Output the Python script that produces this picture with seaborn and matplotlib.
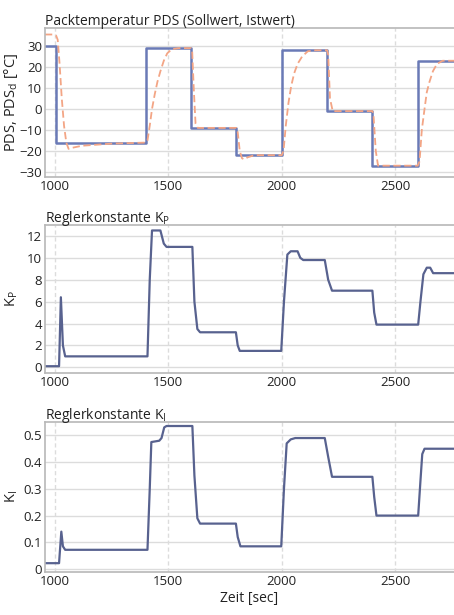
import numpy as np
import pandas as pd
import matplotlib
matplotlib.use("Agg")
import matplotlib.pyplot as plt
import seaborn as sns

# ---- data ----
# setpoint (Sollwert) as step levels
sp_t = [956, 1005, 1400, 1600, 1800, 2000, 2200, 2400, 2600, 2760]
sp_v = [30, -16, 29, -9, -22, 28, -1, -27, 23, 23]

# actual (Istwert)
ist_t = [956, 990, 1005, 1012, 1020, 1030, 1040, 1050, 1060, 1075, 1120, 1250, 1400,
         1408, 1418, 1428, 1440, 1452, 1465, 1480, 1495, 1515, 1545, 1600,
         1605, 1612, 1620, 1630, 1800, 1805, 1815, 1825, 1835, 1850, 1880, 2000,
         2008, 2018, 2030, 2042, 2055, 2070, 2090, 2115, 2150, 2200,
         2205, 2213, 2225, 2400, 2405, 2415, 2425, 2600,
         2608, 2618, 2630, 2640, 2652, 2667, 2685, 2710, 2760]
ist_v = [35.5, 35.5, 35, 33, 22, 5, -8, -16, -19, -18.5, -17.5, -16.5, -16,
         -15, -8, 0, 7, 13, 18, 23, 26.5, 28.5, 29, 29,
         28, 10, -7, -9, -9, -10, -20, -23.5, -24, -23, -22, -22,
         -20, -8, 3, 11, 17, 21.5, 25, 27.5, 28, 28,
         26, 5, -1, -1, -3, -20, -27, -27,
         -25, -10, 0, 8, 13, 18, 21.5, 23, 23]

# Reglerkonstante K_P
kp_t = [956, 1018, 1026, 1035, 1045, 1408, 1418, 1428, 1465, 1480, 1492, 1606, 1615,
        1628, 1640, 1798, 1806, 1815, 1998, 2010, 2025, 2040, 2070, 2082, 2095, 2190,
        2205, 2222, 2400, 2408, 2418, 2602, 2612, 2625, 2640, 2655, 2668, 2760]
kp_v = [0.1, 0.1, 6.4, 2.0, 1.0, 1.0, 8, 12.5, 12.5, 11.3, 11.0, 11.0, 6,
        3.5, 3.2, 3.2, 2.0, 1.5, 1.5, 6, 10.3, 10.6, 10.6, 10.0, 9.8, 9.8,
        8, 7.0, 7.0, 5, 3.9, 3.9, 6, 8.5, 9.1, 9.1, 8.6, 8.6]

# Reglerkonstante K_I
ki_t = [956, 1018, 1022, 1028, 1035, 1045, 1408, 1418, 1425, 1460, 1470, 1482, 1492,
        1606, 1615, 1628, 1640, 1798, 1806, 1818, 1998, 2010, 2022, 2040, 2060, 2075,
        2190, 2205, 2222, 2400, 2408, 2418, 2602, 2612, 2620, 2630, 2760]
ki_v = [0.022, 0.022, 0.07, 0.14, 0.085, 0.072, 0.072, 0.3, 0.475, 0.48, 0.49, 0.53, 0.535,
        0.535, 0.35, 0.19, 0.17, 0.17, 0.12, 0.085, 0.085, 0.3, 0.47, 0.485, 0.49, 0.49,
        0.49, 0.42, 0.345, 0.345, 0.27, 0.2, 0.2, 0.33, 0.43, 0.45, 0.45]

xticks = [1000, 1500, 2000, 2500]

sns.set_theme(style="whitegrid")
plt.rcParams['font.family'] = ['Open Sans', 'DejaVu Sans']

fig = plt.figure(figsize=(4.54, 6.15), dpi=100)
W, H = 454, 615
def rect(l, t, r, b):
    return [l / W, 1 - b / H, (r - l) / W, (b - t) / H]

ax1 = fig.add_axes(rect(45, 28, 454, 177))
ax2 = fig.add_axes(rect(45, 225, 454, 373))
ax3 = fig.add_axes(rect(45, 422, 454, 572))

blue = "#6a7ab6"
navy = "#58628f"
orange = "#f3a585"

df_sp = pd.DataFrame({"t": sp_t, "v": sp_v})
df_ist = pd.DataFrame({"t": ist_t, "v": ist_v})
df_kp = pd.DataFrame({"t": kp_t, "v": kp_v})
df_ki = pd.DataFrame({"t": ki_t, "v": ki_v})

sns.lineplot(data=df_sp, x="t", y="v", ax=ax1, color=blue, lw=1.8,
             drawstyle="steps-post", estimator=None, sort=False)
sns.lineplot(data=df_ist, x="t", y="v", ax=ax1, color=orange, lw=1.3,
             estimator=None, sort=False, linestyle=(0, (4, 2)))
sns.lineplot(data=df_kp, x="t", y="v", ax=ax2, color=navy, lw=1.6,
             estimator=None, sort=False)
sns.lineplot(data=df_ki, x="t", y="v", ax=ax3, color=navy, lw=1.6,
             estimator=None, sort=False)

ax1.set_ylim(-32.4, 38.6)
ax1.set_yticks([-30, -20, -10, 0, 10, 20, 30])
ax2.set_ylim(-0.52, 13.0)
ax2.set_yticks([0, 2, 4, 6, 8, 10, 12])
ax3.set_ylim(-0.011, 0.55)
ax3.set_yticks([0, 0.1, 0.2, 0.3, 0.4, 0.5])
ax3.set_yticklabels(["0", "0.1", "0.2", "0.3", "0.4", "0.5"])

titles = ["Packtemperatur PDS (Sollwert, Istwert)",
          r"Reglerkonstante K$_\mathregular{P}$",
          r"Reglerkonstante K$_\mathregular{I}$"]
ylabels = [r"PDS, PDS$_\mathregular{d}$ [°C]",
           r"K$_\mathregular{P}$",
           r"K$_\mathregular{I}$"]

for ax, ttl, yl in zip([ax1, ax2, ax3], titles, ylabels):
    ax.set_xlim(956, 2760)
    ax.set_xticks(xticks)
    ax.set_facecolor("white")
    ax.grid(axis="y", color="#dcdcdc", lw=1.0, ls="-")
    ax.grid(axis="x", color="#dcdcdc", lw=1.0, ls=(0, (3, 2)))
    ax.tick_params(length=0, labelsize=9.5, colors="#222222", pad=2)
    for s in ["left", "top", "bottom"]:
        ax.spines[s].set_visible(True)
        ax.spines[s].set_color("#b8b8b8")
        ax.spines[s].set_linewidth(1.2)
    ax.spines["right"].set_visible(False)
    ax.set_title(ttl, loc="left", fontsize=10, pad=2, color="#222222")
    ax.set_ylabel(yl, fontsize=10.5, color="#222222")
    ax.yaxis.set_label_coords(-0.062, 0.5)
    ax.set_xlabel("")

ax3.set_xlabel("Zeit [sec]", fontsize=10, color="#222222", labelpad=2)

fig.savefig("out.png", dpi=100)
